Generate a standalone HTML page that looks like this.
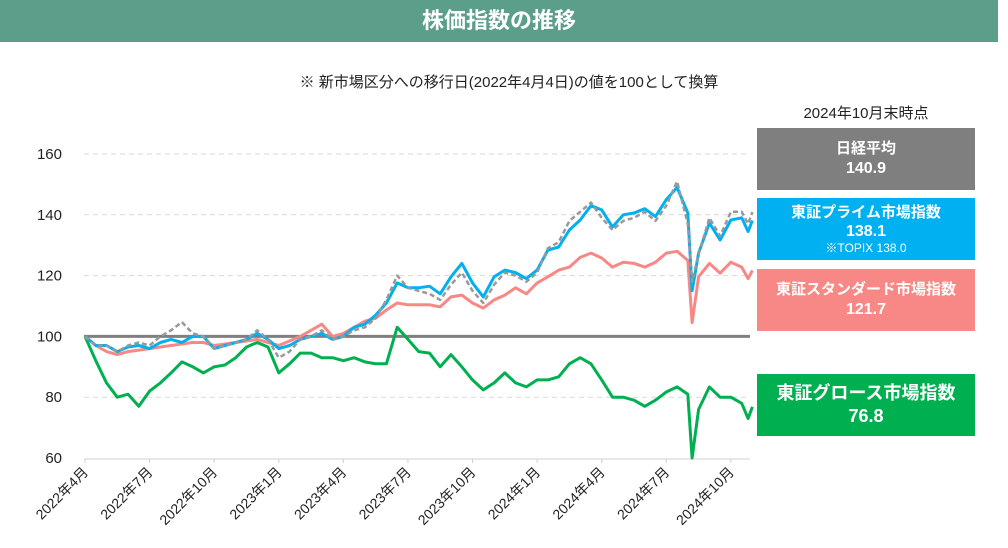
<!DOCTYPE html>
<html><head><meta charset="utf-8">
<style>
html,body{margin:0;padding:0;background:#fff;}
body{width:1008px;height:548px;position:relative;overflow:hidden;font-family:"Liberation Sans","Noto Sans CJK JP",sans-serif;}
.hdr{position:absolute;left:0;top:0;width:998px;height:42px;background:#5b9f8a;color:#fff;font-weight:bold;font-size:22px;text-align:center;line-height:42px;}
.sub{position:absolute;left:0;width:1008px;top:71px;text-align:center;font-size:15px;color:#222;padding-left:10px;box-sizing:border-box;}
.asof{position:absolute;left:757px;width:218px;top:102px;text-align:center;font-size:15px;color:#222;}
.box{position:absolute;left:757px;width:218px;color:#fff;font-weight:bold;text-align:center;display:flex;flex-direction:column;justify-content:center;}
svg{position:absolute;left:0;top:0;}
</style></head><body>
<div class="hdr">株価指数の推移</div>
<div class="sub">※ 新市場区分への移行日(2022年4月4日)の値を100として換算</div>
<div class="asof">2024年10月末時点</div>
<div class="box" style="top:128px;height:62px;background:#7f7f7f;font-size:15px;line-height:20px"><div>日経平均</div><div style="font-size:16px">140.9</div></div>
<div class="box" style="top:198px;height:62px;background:#00b0f0;font-size:15px;line-height:19px"><div>東証プライム市場指数</div><div style="font-size:16px">138.1</div><div style="font-size:12px;font-weight:normal;line-height:15px">※TOPIX 138.0</div></div>
<div class="box" style="top:269px;height:62px;background:#f88886;font-size:15px;line-height:20px"><div>東証スタンダード市場指数</div><div style="font-size:16px">121.7</div></div>
<div class="box" style="top:374px;height:62px;background:#00b050;font-size:18px;line-height:23px"><div>東証グロース市場指数</div><div>76.8</div></div>
<svg id="chart" width="1008" height="548"></svg>
<script>
const months=[0,.5,1,1.5,2,2.5,3,3.5,4,4.5,5,5.5,6,6.5,7,7.5,8,8.5,9,9.5,10,10.5,11,11.5,12,12.5,13,13.5,14,14.5,15,15.5,16,16.5,17,17.5,18,18.5,19,19.5,20,20.5,21,21.5,22,22.5,23,23.5,24,24.5,25,25.5,26,26.5,27,27.5,28,28.2,28.5,29,29.5,30,30.5,30.8,31];
const nikkei=[100,97,97,95,97,98,97,100,102,104.7,101,100,96,97,98,99,102,99,93,95,99,100,102,99,100,102,103,106,112,120,116,115,114,112,117,121,115,111,117,121,120,118,121,129,131,138,141,144,139,135,138,139,141,138,143,151,137,118,127,139,133,141,141,137,140.9];
const prime=[100,97,97,95,96.5,97,96,98,99,98,100,100,96,97,98,99,101,99,96,97,99,100,101,99,100,103,104,107,111,117.6,116,116,116.5,114,119.6,124,117.6,113,119.6,121.8,121,119,121.8,128.4,129.4,135,138.3,143,141.6,136,140,140.6,142,139.4,145,149,140.6,115,127.4,137.3,131.7,138.3,139,134.5,138.1];
const standard=[100,97,95,94,95,95.5,96,96.5,97,97.5,98,98,97,97.5,98,98.5,99,98,97,98.5,100,102,104,100,101,103,105,106,108.7,111,110.4,110.4,110.4,109.7,113,113.6,111,109.3,112,113.6,116,114,117.6,119.6,121.8,122.8,126,127.4,125.8,122.8,124.4,124,122.8,124.4,127.4,128,125,104.5,119.6,124,120.8,124.4,122.8,119,121.7];
const growth=[100,92,84.7,80,81,77,82,84.7,88,91.6,90,88,90,90.6,93,96.5,98,96.5,88,91,94.5,94.5,93,93,92,93,91.6,91,91,103,99,95,94.5,90,94,90,85.7,82.4,84.7,88,84.7,83.4,85.7,85.7,86.7,91,93,91,85.7,80,80,79,77,79,81.7,83.4,81,60,76,83.4,80,80,78,73,76.8];
const yTicks=[60,80,100,120,140,160];
const xTickMonths=[0,3,6,9,12,15,18,21,24,27,30];
const xTickLabels=["2022年4月","2022年7月","2022年10月","2023年1月","2023年4月","2023年7月","2023年10月","2024年1月","2024年4月","2024年7月","2024年10月"];
const NS="http://www.w3.org/2000/svg";
const svg=document.getElementById('chart');
const X=m=>85+m*21.53;
const Y=v=>458-(v-60)*3.04;
function mk(t,a,p){const e=document.createElementNS(NS,t);for(const k in a)e.setAttribute(k,a[k]);(p||svg).appendChild(e);return e;}
yTicks.forEach(v=>{
  if(v!==60&&v!==100){const g=mk('line',{x1:84,x2:750,y1:Y(v),y2:Y(v),stroke:'#d9d9d9','stroke-dasharray':'5,4','stroke-width':1});
  
  }
  const t=mk('text',{x:62,y:Y(v)+5,'text-anchor':'end','font-size':15,fill:'#222','font-family':'Liberation Sans, sans-serif'});
  t.textContent=v;
  
  
});
const ax=mk('line',{x1:84,x2:750,y1:Y(60)+1,y2:Y(60)+1,stroke:'#d0d0d0','stroke-width':1});


xTickMonths.forEach((m,i)=>{
  const x=X(m);
  const tk=mk('line',{x1:x,x2:x,y1:Y(60)+1,y2:Y(60)+5,stroke:'#d0d0d0'});
  
  
  const t=mk('text',{x:x+4,y:Y(60)+15,'text-anchor':'end','font-size':14,fill:'#222',transform:`rotate(-45 ${x+4} ${Y(60)+15})`,'font-family':'Liberation Sans, Noto Sans CJK JP, sans-serif'});
  t.textContent=xTickLabels[i];
  
  
});
const base=mk('line',{x1:84,x2:750,y1:Y(100),y2:Y(100),stroke:'#7f7f7f','stroke-width':3});


function series(vals,color,name,dash){
  const d=vals.map((v,i)=>(i?'L':'M')+X(months[i]).toFixed(1)+','+Y(v).toFixed(1)).join(' ');
  const a={d:d,fill:'none',stroke:color,'stroke-width':dash?2.5:3,'stroke-linejoin':'round'};
  if(dash)a['stroke-dasharray']='5,3';
  const p=mk('path',a);
  
  
}
series(growth,'#00b050','growth-line');
series(standard,'#f88886','standard-line');
series(prime,'#00b0f0','prime-line');
series(nikkei,'#999999','nikkei-line',true);
</script>
</body></html>
